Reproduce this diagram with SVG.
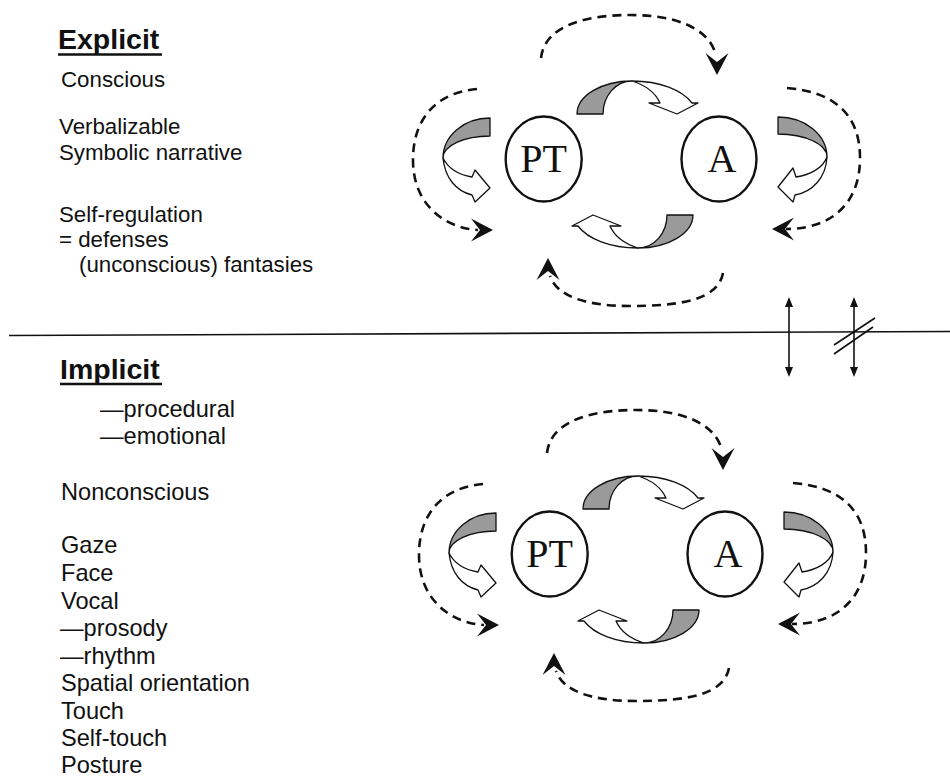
<svg xmlns="http://www.w3.org/2000/svg" xmlns:xlink="http://www.w3.org/1999/xlink" width="950" height="777" viewBox="0 0 950 777">
<style>
.lbl{font-family:"Liberation Sans",Arial,sans-serif;font-size:22.3px;fill:#111}
.lbl2{font-family:"Liberation Sans",Arial,sans-serif;font-size:23.6px;fill:#111}
.ttl{font-family:"Liberation Sans",Arial,sans-serif;font-size:28.5px;font-weight:bold;fill:#111}
.nd{fill:#fff;stroke:#111;stroke-width:2.4}
.ndt{font-family:"Liberation Serif","Times New Roman",serif;font-size:40px;fill:#111;text-anchor:middle}
.dash{fill:none;stroke:#111;stroke-width:2.6;stroke-dasharray:9 6}
.gray{fill:#9a9a9a;stroke:#111;stroke-width:1.3;stroke-linejoin:round}
.wht{fill:#fff;stroke:#111;stroke-width:1.3;stroke-linejoin:round}
.ah{fill:#111}
.thin{stroke:#111;stroke-width:1.6;fill:none}
</style>
<defs>
<path id="ah" d="M0,0 L-22,-11.5 L-13,0 L-22,11.5 Z"/>
<g id="rib-top">
<path class="gray" d="M577,114 A55,33 0 0 1 632,81 A29,33 0 0 0 603,114 Z"/>
<path class="wht" d="M632,81 C660,81 682,90 692,103 L698,103 L677,114 L649,103 L660,103 C656,94 648,86 632,81 Z"/>
</g>
<g id="rib-left">
<path class="gray" d="M490,118 A47,40 0 0 0 443,158 A47,22 0 0 1 490,136 Z"/>
<path class="wht" d="M443,158 C445,178 456,191 472,195 L475,202 L490,188 L475,170 L472,177 C460,175 449,170 443,158 Z"/>
</g>
<g id="rib-right">
<path class="gray" d="M778,117 A49,40 0 0 1 827,157 A49,23 0 0 0 778,134 Z"/>
<path class="wht" d="M827,157 C826,178 812,192 795,195 L793,202 L778,187 L793,168 L796,177 C810,175 823,168 827,157 Z"/>
</g>
</defs>

<g id="labels-explicit">
<text class="ttl" x="58" y="49">Explicit</text>
<line x1="58" y1="54.5" x2="162" y2="54.5" stroke="#111" stroke-width="2.6"/>
<text class="lbl" x="61" y="86.5">Conscious</text>
<text class="lbl" x="59" y="134">Verbalizable</text>
<text class="lbl" x="59" y="160">Symbolic narrative</text>
<text class="lbl" x="59" y="222">Self-regulation</text>
<text class="lbl" x="59" y="247">= defenses</text>
<text class="lbl" x="79" y="272">(unconscious) fantasies</text>
</g>

<g id="labels-implicit">
<text class="ttl" x="60" y="379">Implicit</text>
<line x1="60" y1="384" x2="162" y2="384" stroke="#111" stroke-width="2.6"/>
<text class="lbl2" x="100" y="417">—procedural</text>
<text class="lbl2" x="100" y="444">—emotional</text>
<text class="lbl2" x="61" y="500">Nonconscious</text>
<text class="lbl2" x="61" y="553">Gaze</text>
<text class="lbl2" x="61" y="581">Face</text>
<text class="lbl2" x="61" y="608.5">Vocal</text>
<text class="lbl2" x="60" y="636">—prosody</text>
<text class="lbl2" x="60" y="663.5">—rhythm</text>
<text class="lbl2" x="61" y="691">Spatial orientation</text>
<text class="lbl2" x="61" y="718.5">Touch</text>
<text class="lbl2" x="61" y="746">Self-touch</text>
<text class="lbl2" x="61" y="772.5">Posture</text>
</g>

<g id="divider">
<line x1="9" y1="335.5" x2="950" y2="331.5" stroke="#111" stroke-width="1.6"/>
<g id="arrow-access">
<line class="thin" x1="789" y1="303" x2="789" y2="371"/>
<path class="ah" d="M789,297 L785,307 L793,307 Z"/>
<path class="ah" d="M789,377 L785,367 L793,367 Z"/>
</g>
<g id="arrow-blocked">
<line class="thin" x1="854" y1="303" x2="854" y2="371"/>
<path class="ah" d="M854,297 L850,307 L858,307 Z"/>
<path class="ah" d="M854,377 L850,367 L858,367 Z"/>
<line class="thin" x1="834" y1="345" x2="875" y2="318"/>
<line class="thin" x1="834" y1="354" x2="873" y2="327"/>
</g>
</g>

<g id="diagram-explicit">
<g id="connectors-explicit">
<path class="dash" d="M541,58 C545,22 595,15 630,15 C672,15 706,26 715,52"/>
<use href="#ah" class="ah" transform="translate(717,75) rotate(90)"/>
<path class="dash" d="M477,89 C440,92 413,115 413,160 C413,205 445,228 478,230"/>
<use href="#ah" class="ah" transform="translate(493,230)"/>
<path class="dash" d="M787,88 C835,92 860,115 860,158 C860,205 830,229 786,229"/>
<use href="#ah" class="ah" transform="translate(772,229) rotate(180)"/>
<path class="dash" d="M723,273 C718,300 680,306 630,306 C585,306 557,296 550,276"/>
<use href="#ah" class="ah" transform="translate(548,258) rotate(-90)"/>
<use href="#rib-top"/>
<use href="#rib-top" transform="rotate(180,635,164.5)"/>
<use href="#rib-left"/>
<use href="#rib-right"/>
</g>
<g id="node-pt-explicit">
<ellipse class="nd" cx="543.7" cy="159" rx="38" ry="42.5"/>
<text class="ndt" x="543.5" y="171.5">PT</text>
</g>
<g id="node-a-explicit">
<ellipse class="nd" cx="719" cy="159" rx="37.5" ry="42.5"/>
<text class="ndt" x="722" y="171.5">A</text>
</g>
</g>

<g id="diagram-implicit" transform="translate(6,395)">
<g id="connectors-implicit">
<path class="dash" d="M541,58 C545,22 595,15 630,15 C672,15 706,26 715,52"/>
<use href="#ah" class="ah" transform="translate(717,75) rotate(90)"/>
<path class="dash" d="M477,89 C440,92 413,115 413,160 C413,205 445,228 478,230"/>
<use href="#ah" class="ah" transform="translate(493,230)"/>
<path class="dash" d="M787,88 C835,92 860,115 860,158 C860,205 830,229 786,229"/>
<use href="#ah" class="ah" transform="translate(772,229) rotate(180)"/>
<path class="dash" d="M723,273 C718,300 680,306 630,306 C585,306 557,296 550,276"/>
<use href="#ah" class="ah" transform="translate(548,258) rotate(-90)"/>
<use href="#rib-top"/>
<use href="#rib-top" transform="rotate(180,635,164.5)"/>
<use href="#rib-left"/>
<use href="#rib-right"/>
</g>
<g id="node-pt-implicit">
<ellipse class="nd" cx="543.7" cy="159" rx="38" ry="42.5"/>
<text class="ndt" x="543.5" y="171.5">PT</text>
</g>
<g id="node-a-implicit">
<ellipse class="nd" cx="719" cy="159" rx="37.5" ry="42.5"/>
<text class="ndt" x="722" y="171.5">A</text>
</g>
</g>
</svg>
